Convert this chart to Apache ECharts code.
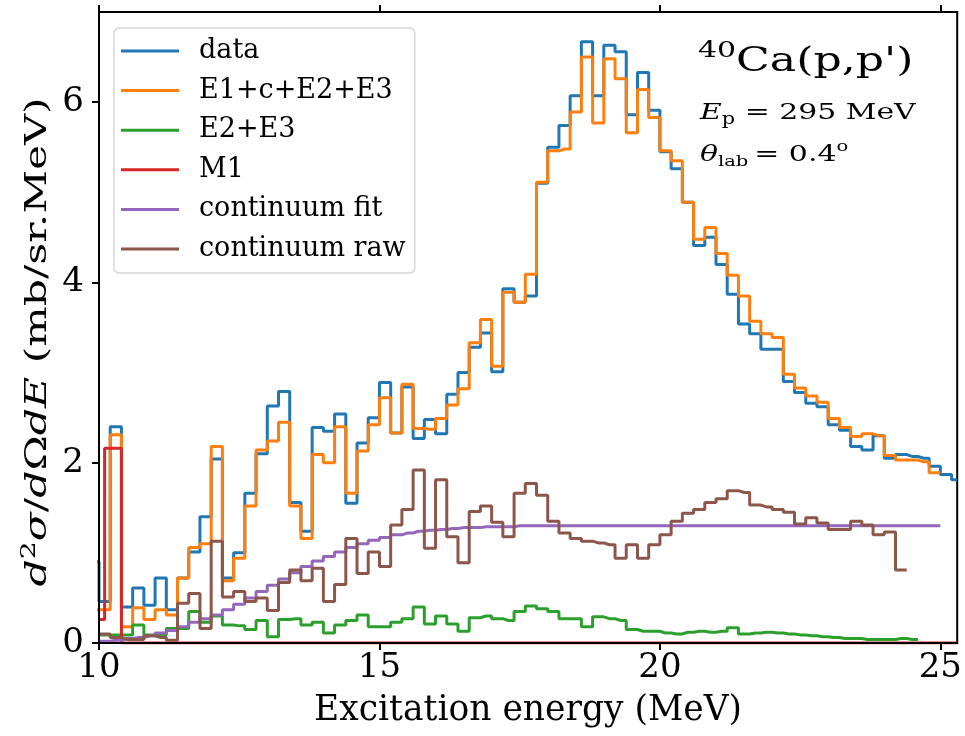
<!DOCTYPE html>
<html><head><meta charset="utf-8">
<script src="https://cdn.jsdelivr.net/npm/echarts@6/dist/echarts.min.js"></script>
<style>html,body{margin:0;padding:0;background:#fff}#c{width:965px;height:736px}</style>
</head><body><div id="c"></div>
<script>
// bin centres (MeV), bin width 0.2
const energies = [9.9,10.1,10.3,10.5,10.7,10.9,11.1,11.3,11.5,11.7,11.9,12.1,12.3,12.5,12.7,12.9,13.1,13.3,13.5,13.7,13.9,
  14.1,14.3,14.5,14.7,14.9,15.1,15.3,15.5,15.7,15.9,16.1,16.3,16.5,16.7,16.9,17.1,17.3,17.5,17.7,17.9,
  18.1,18.3,18.5,18.7,18.9,19.1,19.3,19.5,19.7,19.9,20.1,20.3,20.5,20.7,20.9,21.1,21.3,21.5,21.7,21.9,
  22.1,22.3,22.5,22.7,22.9,23.1,23.3,23.5,23.7,23.9,24.1,24.3,24.5,24.7,24.9,25.1,25.3];
const dataValues = [0.90,0.46,2.40,0.40,0.61,0.42,0.72,0.37,0.72,1.01,1.40,2.04,0.72,1.00,1.66,2.10,2.63,2.79,1.56,1.24,2.39,
  2.35,2.54,1.55,2.22,2.50,2.89,2.33,2.84,2.27,2.48,2.32,2.76,3.00,3.28,3.44,3.01,3.93,3.78,3.85,5.10,
  5.50,5.74,6.07,6.67,6.07,6.63,6.56,5.86,6.33,5.91,5.45,5.26,4.89,4.41,4.50,4.20,3.87,3.54,3.43,3.26,
  3.26,2.90,2.78,2.66,2.62,2.42,2.36,2.18,2.14,2.30,2.05,2.09,2.07,2.05,1.96,1.87,1.81];
const sumValues = [0.37,0.37,2.31,0.18,0.39,0.26,0.37,0.31,0.72,1.06,1.10,2.18,0.69,0.94,1.52,2.14,2.24,2.45,1.52,1.16,2.09,
  2.00,2.40,1.66,2.13,2.42,2.72,2.33,2.87,2.38,2.37,2.49,2.64,2.82,3.33,3.59,3.07,3.89,3.78,4.09,5.11,
  5.46,5.48,5.89,6.50,5.77,6.48,6.26,5.66,6.14,5.83,5.46,5.35,4.89,4.48,4.61,4.32,4.08,3.85,3.57,3.43,
  3.39,2.98,2.83,2.74,2.67,2.49,2.39,2.29,2.32,2.30,2.08,2.03,2.03,2.01,1.89,null,null];
const e2e3Values = [null,0.09,0.09,0.09,0.20,0.09,0.09,0.16,0.16,0.35,0.23,0.30,0.20,0.19,0.15,0.25,0.07,0.26,0.27,0.20,0.23,
  0.11,0.20,0.25,0.31,0.18,0.18,0.23,0.27,0.40,0.21,0.30,0.21,0.13,0.28,0.30,0.27,0.25,0.35,0.41,0.38,
  0.35,0.27,0.27,0.18,0.29,0.27,0.25,0.15,0.13,0.13,0.11,0.10,0.12,0.13,0.12,0.13,0.17,0.10,0.11,0.12,
  0.11,0.10,0.09,0.08,0.07,0.06,0.05,0.05,0.04,0.04,0.04,0.05,0.04,null,null,null,null];
const contFitValues = [null,0.02,0.03,0.05,0.06,0.08,0.11,0.14,0.18,0.23,0.27,0.31,0.37,0.43,0.50,0.57,0.64,0.71,0.78,0.85,0.91,
  0.96,1.01,1.06,1.10,1.14,1.17,1.20,1.22,1.24,1.25,1.26,1.27,1.28,1.28,1.29,1.29,1.29,1.30,1.30,1.30,
  1.30,1.30,1.30,1.30,1.30,1.30,1.30,1.30,1.30,1.30,1.30,1.30,1.30,1.30,1.30,1.30,1.30,1.30,1.30,1.30,
  1.30,1.30,1.30,1.30,1.30,1.30,1.30,1.30,1.30,1.30,1.30,1.30,1.30,1.30,1.30,null,null];
const contRawValues = [null,0.10,0.06,0.04,0.04,0.08,0.06,0.03,0.44,0.55,0.16,1.13,0.51,0.57,0.46,0.50,0.36,0.67,0.81,0.69,0.83,
  0.46,0.65,1.16,0.77,1.01,0.85,1.31,1.48,1.92,1.05,1.81,1.18,0.89,1.46,1.52,1.34,1.18,1.66,1.77,1.64,
  1.35,1.22,1.16,1.13,1.11,1.09,0.94,1.09,0.94,1.09,1.20,1.35,1.44,1.48,1.56,1.60,1.69,1.67,1.53,1.51,
  1.48,1.45,1.32,1.39,1.33,1.26,1.26,1.35,1.31,1.20,1.23,0.81,null,null,null,null,null];
// M1 strength (step edges)
const m1Energies = [10.0,10.1,10.4,25.3];
const m1Values = [0.26,2.16,0,0];

const xTicks = [10,15,20,25];
const yTicks = [0,2,4,6];

const seriesNames = ['data','E1+c+E2+E3','E2+E3','M1','continuum fit','continuum raw'];
const colors = ['#1f77b4','#ff7f0e','#2ca02c','#d62728','#9467bd','#8c564b'];

const FONT = 'DejaVu Serif';
function pairs(xs, vs){ return xs.map((e,i)=>[e, vs[i]]); }
function stepSeries(name, color, data, step){
  return {name, type:'line', step: step, data, showSymbol:false, symbol:'none',
    lineStyle:{color, width:3}, itemStyle:{color}, clip:true, animation:false, z:2};
}
const tickStyle = {show:true, inside:false, length:7, lineStyle:{color:'#000', width:2}};
const lineStyleAxis = {show:true, onZero:false, lineStyle:{color:'#000', width:2}};

const chart = echarts.init(document.getElementById('c'));
chart.setOption({
  animation:false,
  backgroundColor:'#fff',
  grid:{left:99, right:7, top:12, bottom:93, show:true, borderColor:'#000', borderWidth:2, backgroundColor:'transparent'},
  legend:{
    orient:'vertical', left:114, top:28, data: seriesNames,
    icon:'rect', itemWidth:58, itemHeight:3, itemGap:9.6,
    padding:[8,9,9,7],
    backgroundColor:'#fff', borderColor:'#d6d6d6', borderWidth:1.5, borderRadius:5,
    textStyle:{fontFamily:FONT, fontSize:27, color:'#000', lineHeight:30, padding:[0,0,0,15]}
  },
  xAxis:[{
    type:'value', min:10, max:25.3, interval:5, position:'bottom', z:5,
    axisLine:lineStyleAxis,
    axisTick:Object.assign({customValues:xTicks}, tickStyle),
    axisLabel:{customValues:xTicks, fontFamily:FONT, fontSize:34, color:'#000', margin:8,
      formatter:v=> xTicks.indexOf(v)>=0 ? String(v) : ''},
    splitLine:{show:false},
    name:'Excitation energy (MeV)', nameLocation:'middle', nameGap:51,
    nameTextStyle:{fontFamily:FONT, fontSize:34.5, color:'#000'}
  },{
    type:'value', min:10, max:25.3, interval:5, position:'top', z:5,
    axisLine:lineStyleAxis,
    axisTick:Object.assign({customValues:xTicks}, tickStyle),
    axisLabel:{show:false}, splitLine:{show:false}
  }],
  yAxis:{
    type:'value', min:0, max:7, interval:2, z:5,
    axisLine:lineStyleAxis,
    axisTick:Object.assign({customValues:yTicks}, tickStyle),
    axisLabel:{customValues:yTicks, fontFamily:FONT, fontSize:34, color:'#000', margin:15,
      formatter:v=> yTicks.indexOf(v)>=0 ? String(v) : ''},
    splitLine:{show:false}
  },
  series:[
    stepSeries(seriesNames[0], colors[0], pairs(energies, dataValues), 'middle'),
    stepSeries(seriesNames[1], colors[1], pairs(energies, sumValues), 'middle'),
    stepSeries(seriesNames[2], colors[2], pairs(energies, e2e3Values), 'middle'),
    stepSeries(seriesNames[3], colors[3], pairs(m1Energies, m1Values), 'end'),
    stepSeries(seriesNames[4], colors[4], pairs(energies, contFitValues), 'middle'),
    stepSeries(seriesNames[5], colors[5], pairs(energies, contRawValues), 'middle')
  ],
  graphic:[
    // y-axis title
    {type:'text', x:38, y:342, rotation:Math.PI/2, scaleX:1.42, z:10, style:{
      text:'{i|d}{s|2}{i|σ}/{i|d}Ω{i|dE} (mb/sr.MeV)', fill:'#000',
      fontFamily:FONT, fontSize:30, align:'center', verticalAlign:'middle',
      rich:{i:{fontFamily:FONT, fontStyle:'italic', fontSize:30, lineHeight:36, fill:'#000'},
            s:{fontFamily:FONT, fontSize:20, lineHeight:22, verticalAlign:'top', fill:'#000'}}}},
    {type:'text', x:698, y:40, scaleX:1.3, z:10, style:{
      text:'{sup|40}{m|Ca(p,p\')}', fill:'#000',
      rich:{sup:{fontFamily:FONT, fontSize:23, lineHeight:24, verticalAlign:'top', fill:'#000'},
            m:{fontFamily:FONT, fontSize:34, lineHeight:44, fill:'#000'}}}},
    {type:'text', x:700, y:98, scaleX:1.3, z:10, style:{
      text:'{it|E}{sub|p}{m| = 295 MeV}', fill:'#000',
      rich:{it:{fontFamily:FONT, fontStyle:'italic', fontSize:23, lineHeight:30, fill:'#000'},
            sub:{fontFamily:FONT, fontSize:16, lineHeight:16, verticalAlign:'bottom', fill:'#000'},
            m:{fontFamily:FONT, fontSize:23, lineHeight:30, fill:'#000'}}}},
    {type:'text', x:700, y:140, scaleX:1.3, z:10, style:{
      text:'{it|θ}{sub|lab}{m|\u2009= 0.4}{sup|o}', fill:'#000',
      rich:{it:{fontFamily:FONT, fontStyle:'italic', fontSize:23, lineHeight:30, fill:'#000'},
            sub:{fontFamily:FONT, fontSize:15, lineHeight:16, verticalAlign:'bottom', fill:'#000'},
            sup:{fontFamily:FONT, fontSize:15, lineHeight:16, verticalAlign:'top', fill:'#000'},
            m:{fontFamily:FONT, fontSize:23, lineHeight:30, fill:'#000'}}}}
  ]
});
</script></body></html>
